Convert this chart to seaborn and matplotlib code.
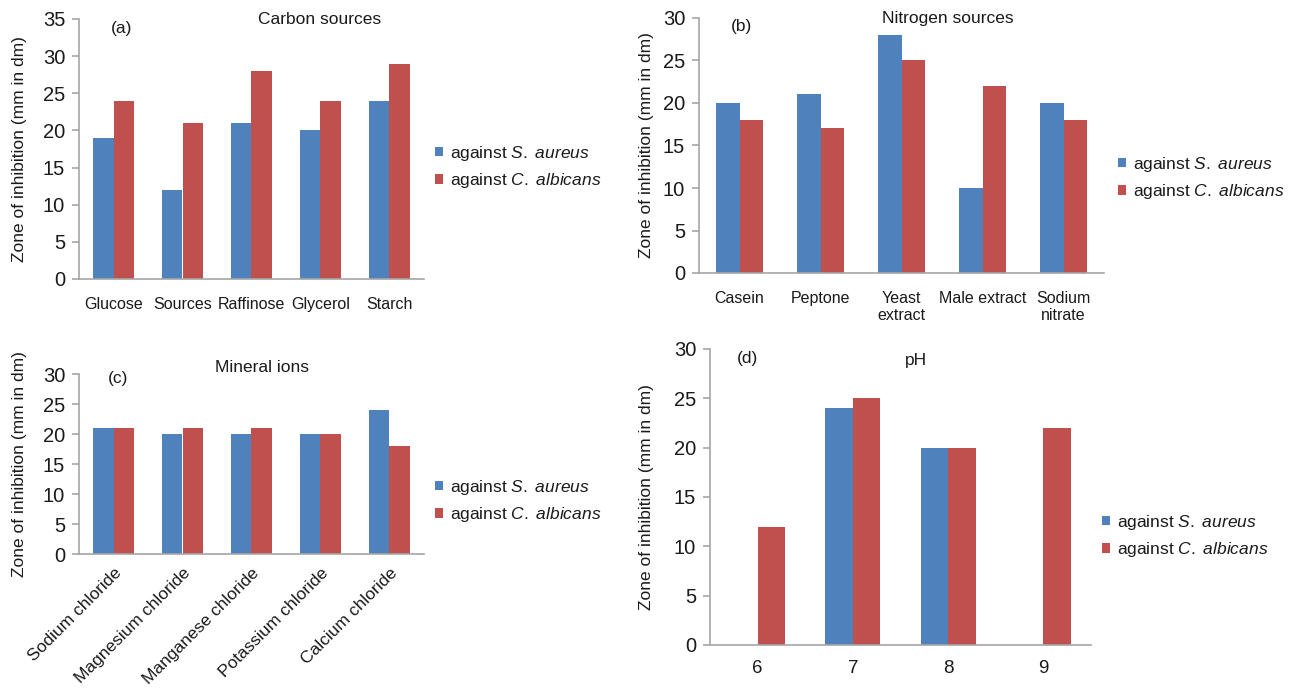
import numpy as np
import pandas as pd
import matplotlib
matplotlib.use("Agg")
import matplotlib.pyplot as plt
import seaborn as sns

# ---------------- data ----------------
series = ["against S. aureus", "against C. albicans"]
series_labels = [r"against $\mathit{S.\ aureus}$", r"against $\mathit{C.\ albicans}$"]

carbon_cats = ["Glucose", "Sources", "Raffinose", "Glycerol", "Starch"]
carbon_aureus = [19, 12, 21, 20, 24]
carbon_albicans = [24, 21, 28, 24, 29]

nitrogen_cats = ["Casein", "Peptone", "Yeast\nextract", "Male extract", "Sodium\nnitrate"]
nitrogen_aureus = [20, 21, 28, 10, 20]
nitrogen_albicans = [18, 17, 25, 22, 18]

mineral_cats = ["Sodium chloride", "Magnesium chloride", "Manganese chloride",
                "Potassium chloride", "Calcium chloride"]
mineral_aureus = [21, 20, 20, 20, 24]
mineral_albicans = [21, 21, 21, 20, 18]

ph_cats = ["6", "7", "8", "9"]
ph_aureus = [0, 24, 20, 0]
ph_albicans = [12, 25, 20, 22]

ylabel = "Zone of inhibition (mm in dm)"
BLUE = "#4F81BD"
RED = "#C0504D"
AXC = "#A6A6A6"
TXT = "#1a1a1a"

# ---------------- style ----------------
sns.set_theme(style="white")
plt.rcParams["font.family"] = ["Liberation Sans", "DejaVu Sans"]
plt.rcParams["mathtext.fontset"] = "custom"
plt.rcParams["mathtext.rm"] = "Liberation Sans"
plt.rcParams["mathtext.it"] = "Liberation Sans:italic"
plt.rcParams["text.color"] = TXT
FS = dict(ytick=14.5, xtick=11.5, leg=12.5, title=12.5, ylab=12.5, rot=12.5, ph=13.5)

W, H = 1293, 692
fig = plt.figure(figsize=(W / 100, H / 100), dpi=100)


def box(left, right, top, bottom):
    return [left / W, 1 - bottom / H, (right - left) / W, (bottom - top) / H]


def long_df(cats, a, b):
    return pd.DataFrame({
        "cat": list(cats) * 2,
        "val": list(a) + list(b),
        "ser": [series[0]] * len(cats) + [series[1]] * len(cats),
    })


def panel(rect, cats, a, b, ymax, ylab_x, legend_xy, letter, letter_xy, title, title_xy,
          xpad=13, rot=None, xfs=None):
    ax = fig.add_axes(rect)
    df = long_df(cats, a, b)
    sns.barplot(data=df, x="cat", y="val", hue="ser", order=list(cats), hue_order=series,
                palette=[BLUE, RED], width=0.58, saturation=1, ax=ax, legend=True,
                linewidth=0, errorbar=None)
    n = len(cats)
    ax.set_xlim(-0.5, n - 0.5)
    ax.set_ylim(0, ymax)
    ax.set_yticks(np.arange(0, ymax + 1, 5))
    for s in ["top", "right"]:
        ax.spines[s].set_visible(False)
    for s in ["left", "bottom"]:
        ax.spines[s].set_color(AXC)
        ax.spines[s].set_linewidth(1.2)
    ax.set_xticks(np.arange(-0.5, n, 1.0), minor=True)
    ax.tick_params(axis="x", which="minor", length=6, color=AXC, width=1.2, direction="out")
    ax.tick_params(axis="x", which="major", length=0, pad=xpad,
                   labelsize=xfs or FS["xtick"], labelcolor=TXT)
    ax.tick_params(axis="y", which="major", length=5, color=AXC, width=1.2, direction="out",
                   pad=5, labelsize=FS["ytick"], labelcolor=TXT, left=True)
    if rot:
        ax.set_xticks(range(n))
        ax.set_xticklabels(cats, rotation=rot, ha="right", va="top", rotation_mode="anchor",
                           fontsize=FS["rot"])
    ax.set_xlabel("")
    ax.set_ylabel(ylabel, fontsize=FS["ylab"], color=TXT)
    ax.yaxis.set_label_coords(ylab_x, 0.5)
    handles, _ = ax.get_legend_handles_labels()
    ax.legend(handles, series_labels, loc="center left",
              bbox_to_anchor=(legend_xy[0] / W, 1 - legend_xy[1] / H),
              bbox_transform=fig.transFigure, frameon=False, fontsize=FS["leg"],
              handlelength=0.45, handleheight=0.45, handletextpad=0.4, labelspacing=0.5,
              borderpad=0, borderaxespad=0)
    fig.text(letter_xy[0] / W, 1 - letter_xy[1] / H, letter, ha="center", va="center",
             fontsize=FS["title"])
    fig.text(title_xy[0] / W, 1 - title_xy[1] / H, title, ha="center", va="center",
             fontsize=FS["title"])
    return ax


panel(box(79, 424, 19, 279), carbon_cats, carbon_aureus, carbon_albicans, 35,
      -0.151, (435, 167), "(a)", (122, 29), "Carbon sources", (320, 20))
panel(box(699, 1104, 18, 273), nitrogen_cats, nitrogen_aureus, nitrogen_albicans, 30,
      -0.111, (1118, 178), "(b)", (742, 26), "Nitrogen sources", (948, 18))
panel(box(79, 424, 374, 554), mineral_cats, mineral_aureus, mineral_albicans, 30,
      -0.151, (435, 501), "(c)", (118, 378), "Mineral ions", (262, 368), xpad=8, rot=45)
panel(box(710, 1091, 349, 645), ph_cats, ph_aureus, ph_albicans, 30,
      -0.147, (1102, 536), "(d)", (747, 359), "pH", (916, 361), xpad=11, xfs=FS["ph"])

fig.savefig("out.png", dpi=100)
